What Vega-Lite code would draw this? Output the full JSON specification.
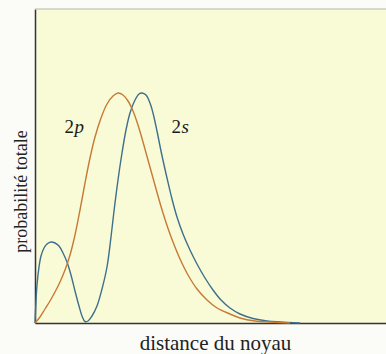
{
  "$schema": "https://vega.github.io/schema/vega-lite/v6.json",
  "width": 351,
  "height": 314,
  "autosize": {"type": "none"},
  "padding": {"left": 35, "top": 9, "right": 0, "bottom": 31},
  "background": "#fbfbf8",
  "config": {
    "view": {"fill": "#f9fad6", "stroke": null},
    "font": "'Liberation Serif', 'DejaVu Serif', serif"
  },
  "datasets": {
    "curves": [
      {"orb": "2s", "d": 0, "p": 0}, {"orb": "2s", "d": 1, "p": 22}, {"orb": "2s", "d": 2, "p": 38},
      {"orb": "2s", "d": 4, "p": 56}, {"orb": "2s", "d": 6, "p": 67}, {"orb": "2s", "d": 9, "p": 75},
      {"orb": "2s", "d": 12, "p": 79}, {"orb": "2s", "d": 16, "p": 81}, {"orb": "2s", "d": 20, "p": 80},
      {"orb": "2s", "d": 24, "p": 77}, {"orb": "2s", "d": 28, "p": 70}, {"orb": "2s", "d": 32, "p": 61},
      {"orb": "2s", "d": 36, "p": 48}, {"orb": "2s", "d": 40, "p": 32}, {"orb": "2s", "d": 44, "p": 17},
      {"orb": "2s", "d": 47, "p": 7}, {"orb": "2s", "d": 50, "p": 1.5}, {"orb": "2s", "d": 53, "p": 2},
      {"orb": "2s", "d": 57, "p": 7}, {"orb": "2s", "d": 62, "p": 17}, {"orb": "2s", "d": 67, "p": 34},
      {"orb": "2s", "d": 72, "p": 56}, {"orb": "2s", "d": 76, "p": 86}, {"orb": "2s", "d": 79, "p": 112},
      {"orb": "2s", "d": 83, "p": 143}, {"orb": "2s", "d": 87, "p": 170}, {"orb": "2s", "d": 91, "p": 193},
      {"orb": "2s", "d": 95, "p": 210}, {"orb": "2s", "d": 100, "p": 223}, {"orb": "2s", "d": 104, "p": 229},
      {"orb": "2s", "d": 107, "p": 230}, {"orb": "2s", "d": 111, "p": 228}, {"orb": "2s", "d": 115, "p": 220},
      {"orb": "2s", "d": 118, "p": 210}, {"orb": "2s", "d": 122, "p": 192}, {"orb": "2s", "d": 126, "p": 172},
      {"orb": "2s", "d": 132, "p": 145}, {"orb": "2s", "d": 137, "p": 124}, {"orb": "2s", "d": 142, "p": 106},
      {"orb": "2s", "d": 148, "p": 89}, {"orb": "2s", "d": 155, "p": 73}, {"orb": "2s", "d": 162, "p": 59},
      {"orb": "2s", "d": 170, "p": 45}, {"orb": "2s", "d": 178, "p": 33}, {"orb": "2s", "d": 186, "p": 23},
      {"orb": "2s", "d": 195, "p": 15}, {"orb": "2s", "d": 205, "p": 9}, {"orb": "2s", "d": 218, "p": 4.5},
      {"orb": "2s", "d": 232, "p": 2}, {"orb": "2s", "d": 245, "p": 1}, {"orb": "2s", "d": 265, "p": 0},
      {"orb": "2p", "d": 0, "p": 0}, {"orb": "2p", "d": 5, "p": 6}, {"orb": "2p", "d": 10, "p": 14},
      {"orb": "2p", "d": 15, "p": 22}, {"orb": "2p", "d": 20, "p": 31}, {"orb": "2p", "d": 25, "p": 41},
      {"orb": "2p", "d": 30, "p": 53}, {"orb": "2p", "d": 35, "p": 68}, {"orb": "2p", "d": 40, "p": 88},
      {"orb": "2p", "d": 45, "p": 113}, {"orb": "2p", "d": 50, "p": 140}, {"orb": "2p", "d": 55, "p": 165},
      {"orb": "2p", "d": 60, "p": 186}, {"orb": "2p", "d": 66, "p": 205}, {"orb": "2p", "d": 72, "p": 219},
      {"orb": "2p", "d": 78, "p": 227}, {"orb": "2p", "d": 83, "p": 230}, {"orb": "2p", "d": 88, "p": 228},
      {"orb": "2p", "d": 93, "p": 222}, {"orb": "2p", "d": 98, "p": 212}, {"orb": "2p", "d": 103, "p": 198},
      {"orb": "2p", "d": 108, "p": 181}, {"orb": "2p", "d": 113, "p": 163}, {"orb": "2p", "d": 118, "p": 145},
      {"orb": "2p", "d": 123, "p": 127}, {"orb": "2p", "d": 128, "p": 110}, {"orb": "2p", "d": 135, "p": 89},
      {"orb": "2p", "d": 145, "p": 64}, {"orb": "2p", "d": 153, "p": 48}, {"orb": "2p", "d": 162, "p": 34},
      {"orb": "2p", "d": 172, "p": 23}, {"orb": "2p", "d": 182, "p": 15}, {"orb": "2p", "d": 195, "p": 9},
      {"orb": "2p", "d": 205, "p": 5}, {"orb": "2p", "d": 220, "p": 2}, {"orb": "2p", "d": 235, "p": 1},
      {"orb": "2p", "d": 255, "p": 0}
    ],
    "labels": [
      {"num": "2", "letter": "p", "d": 39, "p": 190},
      {"num": "2", "letter": "s", "d": 146, "p": 190}
    ]
  },
  "layer": [
    {
      "data": {"name": "curves"},
      "mark": {"type": "line", "strokeWidth": 1.4, "interpolate": "catmull-rom"},
      "encoding": {
        "x": {
          "field": "d", "type": "quantitative",
          "scale": {"domain": [0, 351], "nice": false},
          "axis": {
            "title": "distance du noyau", "labels": false, "ticks": false, "grid": false,
            "domainColor": "#333333", "domainWidth": 1.5,
            "titleFont": "'Liberation Serif', 'DejaVu Serif', serif", "titleFontSize": 21, "titleFontWeight": "normal",
            "titleColor": "#222222", "titlePadding": 9, "titleX": 180
          }
        },
        "y": {
          "field": "p", "type": "quantitative",
          "scale": {"domain": [0, 314], "nice": false},
          "axis": {
            "title": "probabilité totale", "labels": false, "ticks": false, "grid": false,
            "domainColor": "#333333", "domainWidth": 1.5,
            "titleFont": "'Liberation Serif', 'DejaVu Serif', serif", "titleFontSize": 18, "titleFontWeight": "normal",
            "titleColor": "#222222", "titlePadding": 5, "titleY": 182
          }
        },
        "color": {
          "field": "orb", "type": "nominal",
          "scale": {"domain": ["2s", "2p"], "range": ["#3e6f8c", "#c67a35"]},
          "legend": null
        }
      }
    },
    {
      "data": {"name": "labels"},
      "mark": {"type": "text", "fontSize": 19, "font": "'Liberation Serif', 'DejaVu Serif', serif", "fontStyle": "normal", "color": "#1a1a1a", "baseline": "alphabetic", "align": "right"},
      "encoding": {
        "x": {"field": "d", "type": "quantitative"},
        "y": {"field": "p", "type": "quantitative"},
        "text": {"field": "num"}
      }
    },
    {
      "data": {"name": "labels"},
      "mark": {"type": "text", "fontSize": 19, "font": "'Liberation Serif', 'DejaVu Serif', serif", "fontStyle": "italic", "color": "#1a1a1a", "baseline": "alphabetic", "align": "left", "dx": 0.5},
      "encoding": {
        "x": {"field": "d", "type": "quantitative"},
        "y": {"field": "p", "type": "quantitative"},
        "text": {"field": "letter"}
      }
    },
    {
      "data": {"values": [{"a": 1}]},
      "mark": {"type": "rule", "color": "#b8b8a8", "strokeWidth": 1.2},
      "encoding": {"y": {"datum": 314}}
    }
  ]
}
